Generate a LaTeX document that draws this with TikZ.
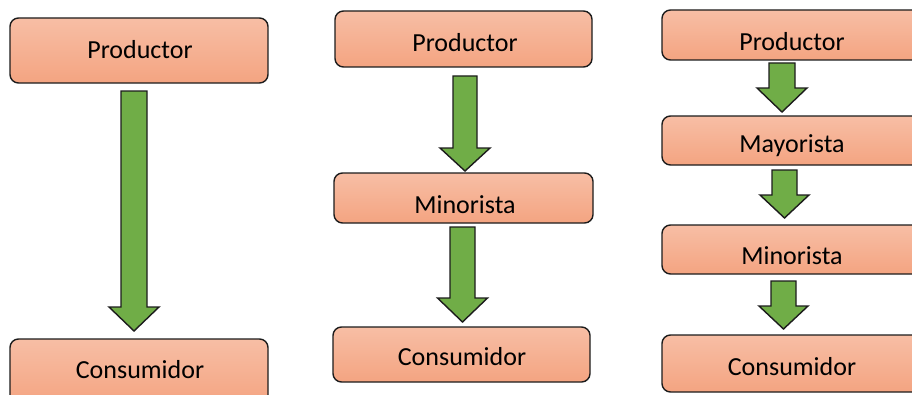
\documentclass[tikz,border=0pt]{standalone}
\usepackage{fontspec}
\setmainfont{Carlito}
\definecolor{boxtop}{HTML}{F7BEA5}
\definecolor{boxbottom}{HTML}{F4A481}
\definecolor{flowgreen}{HTML}{70AD47}
\definecolor{edge}{HTML}{1C1C1C}
\tikzset{
  stagebox/.style={draw=edge, line width=1pt, rounded corners=6pt,
    top color=boxtop, bottom color=boxbottom},
  stagelabel/.style={inner sep=0pt, font=\fontsize{18.5}{20}\selectfont, text=black},
  flow/.style={draw=edge, line width=1pt, fill=flowgreen, line join=miter}
}
% block arrow: centre x, top, start of head, tip, half shaft, half head
\newcommand{\flowarrow}[6]{%
  \draw[flow] (#1-#5,#2) -- (#1+#5,#2) -- (#1+#5,#3) -- (#1+#6,#3) -- (#1,#4)
    -- (#1-#6,#3) -- (#1-#5,#3) -- cycle;}
\begin{document}
\begin{tikzpicture}[x=0.025cm,y=-0.025cm]
\useasboundingbox (0,0) rectangle (912,394);
\clip (0,0) rectangle (912,394);

% direct channel
\draw[stagebox] (10,18) rectangle (268,83);
\node[stagelabel] (prod1) at (140,50) {Productor};
\draw[stagebox] (10,339) rectangle (268,405);
\node[stagelabel] (cons1) at (140,370) {Consumidor};
\flowarrow{134}{91}{307}{331}{13}{25}

% short channel
\draw[stagebox] (335,11) rectangle (592,67);
\node[stagelabel] (prod2) at (465,43) {Productor};
\draw[stagebox] (334,173) rectangle (593,223);
\node[stagelabel] (mino2) at (465,205) {Minorista};
\draw[stagebox] (333,327) rectangle (590,382);
\node[stagelabel] (cons2) at (462,357) {Consumidor};
\flowarrow{465}{76}{148}{171}{12}{25}
\flowarrow{462.5}{227}{298}{322}{12.5}{25}

% long channel
\draw[stagebox] (662,10) rectangle (925,60);
\node[stagelabel] (prod3) at (792,42) {Productor};
\draw[stagebox] (662,116) rectangle (925,165);
\node[stagelabel] (mayo3) at (792,146) {Mayorista};
\draw[stagebox] (662,225) rectangle (925,274);
\node[stagelabel] (mino3) at (792,256) {Minorista};
\draw[stagebox] (662,335) rectangle (925,392);
\node[stagelabel] (cons3) at (792,367) {Consumidor};
\flowarrow{782}{63}{88}{112}{13}{25}
\flowarrow{784.5}{170}{195}{218}{12.5}{24.5}
\flowarrow{783.5}{281}{306}{329}{12.5}{24.5}
\end{tikzpicture}
\end{document}
